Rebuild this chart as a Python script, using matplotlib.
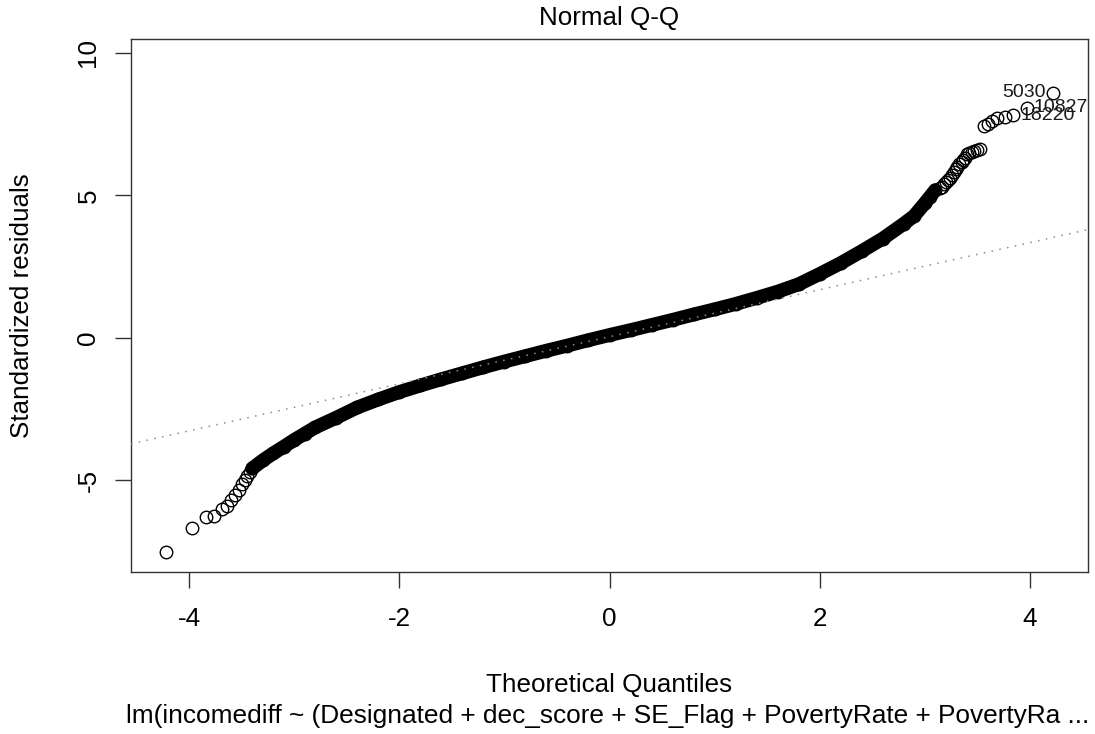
import matplotlib
matplotlib.use("Agg")
import matplotlib.pyplot as plt

plt.rcParams['font.family'] = ['Liberation Sans', 'DejaVu Sans']

# ---- data ----
# dense central band of the Q-Q plot (theoretical quantile, standardized residual)
band_theoretical = [-3.40, -3.30, -3.20, -3.10, -3.00, -2.90, -2.80, -2.60, -2.40, -2.20,
                    -2.00, -1.80, -1.60, -1.40, -1.20, -1.00, -0.80, -0.60, -0.40, -0.20,
                    0.00, 0.20, 0.40, 0.60, 0.80, 1.00, 1.20, 1.40, 1.60, 1.80,
                    2.00, 2.20, 2.40, 2.60, 2.80, 2.90, 3.00, 3.05, 3.10]
band_residual = [-4.58, -4.30, -4.05, -3.82, -3.58, -3.36, -3.14, -2.80, -2.44, -2.16,
                 -1.90, -1.67, -1.45, -1.24, -1.03, -0.83, -0.64, -0.45, -0.27, -0.08,
                 0.10, 0.27, 0.45, 0.63, 0.82, 1.00, 1.19, 1.40, 1.62, 1.88,
                 2.24, 2.62, 3.04, 3.48, 4.00, 4.28, 4.72, 4.95, 5.18]

# individually visible points in the lower tail
low_theoretical = [-4.22, -3.97, -3.84, -3.76, -3.69, -3.64, -3.60, -3.56, -3.53,
                   -3.50, -3.47, -3.45, -3.42]
low_residual = [-7.52, -6.68, -6.28, -6.24, -6.00, -5.88, -5.70, -5.52, -5.32,
                -5.14, -4.98, -4.84, -4.72]

# individually visible points in the upper tail
high_theoretical = [3.14, 3.16, 3.18, 3.20, 3.22, 3.24, 3.26, 3.28, 3.30, 3.31, 3.33,
                    3.35, 3.36, 3.38, 3.40, 3.42, 3.45, 3.47, 3.50, 3.53,
                    3.56, 3.60, 3.64, 3.69, 3.76, 3.84, 3.97, 4.22]
high_residual = [5.25, 5.30, 5.38, 5.46, 5.54, 5.62, 5.72, 5.82, 5.92, 6.00, 6.10,
                 6.18, 6.24, 6.32, 6.44, 6.48, 6.52, 6.56, 6.60, 6.64,
                 7.42, 7.50, 7.60, 7.70, 7.76, 7.80, 8.07, 8.59]

# labelled observations
label_ids = ["5030", "10827", "18220"]
label_theoretical = [4.22, 3.97, 3.84]
label_residual = [8.59, 8.07, 7.80]
label_side = ["left", "right", "right"]

# reference line (qqline) through the quartiles
qqline_slope = 0.825
qqline_intercept = 0.04

x_ticks = [-4, -2, 0, 2, 4]
y_ticks = [-5, 0, 5, 10]

title = "Normal Q-Q"
x_label = "Theoretical Quantiles"
y_label = "Standardized residuals"
subtitle = "lm(incomediff ~ (Designated + dec_score + SE_Flag + PovertyRate + PovertyRa ..."

# ---- figure ----
W, H = 1095, 734
fig = plt.figure(figsize=(W / 100, H / 100), dpi=100)
ax_left, ax_right, ax_top, ax_bottom = 131, 1088, 39, 572
ax = fig.add_axes([ax_left / W, 1 - ax_bottom / H,
                   (ax_right - ax_left) / W, (ax_bottom - ax_top) / H])

FS = 18.7
ms = 9.0
mew = 1.0

# dense band: overlapping circles form a solid stroke
ax.plot(band_theoretical, band_residual, color='black', lw=10.0,
        solid_capstyle='round', solid_joinstyle='round', zorder=2)
ax.plot(band_theoretical, band_residual, linestyle='none', marker='o', ms=ms,
        mfc='none', mec='black', mew=mew, zorder=3)
ax.plot(low_theoretical, low_residual, linestyle='none', marker='o', ms=ms,
        mfc='none', mec='black', mew=mew, zorder=3)
ax.plot(high_theoretical, high_residual, linestyle='none', marker='o', ms=ms,
        mfc='none', mec='black', mew=mew, zorder=3)

# dotted reference line
ax.axline((0, qqline_intercept), slope=qqline_slope, color='#8c8c8c', lw=1.1,
          linestyle=(0, (1, 4.2)), zorder=4)

for lab, xv, yv, side in zip(label_ids, label_theoretical, label_residual, label_side):
    off = -5 if side == "left" else 5
    ax.annotate(lab, (xv, yv), xytext=(off, 0), textcoords='offset points',
                ha='right' if side == "left" else 'left', va='center',
                fontsize=14, color='#1a1a1a', zorder=5)

ax.set_xlim(-4.553, 4.553)
ax.set_ylim(-8.21, 10.48)
ax.set_xticks(x_ticks)
ax.set_yticks(y_ticks)
ax.set_xticklabels([str(t) for t in x_ticks], fontsize=FS)
ax.set_yticklabels([str(t) for t in y_ticks], fontsize=FS, rotation=90, va='center')
ax.tick_params(axis='both', direction='out', length=11.5, width=1.0, color='#333333')
ax.tick_params(axis='x', pad=13.5)
ax.tick_params(axis='y', pad=10.5)
for s in ax.spines.values():
    s.set_linewidth(1.0)
    s.set_color('#333333')

fig.text(609.5 / W, 1 - 18 / H, title, ha='center', va='center', fontsize=FS)
fig.text(609.5 / W, 1 - 685 / H, x_label, ha='center', va='center', fontsize=FS)
fig.text(607.5 / W, 1 - 716 / H, subtitle, ha='center', va='center', fontsize=18.9)
fig.text(22 / W, 1 - 306 / H, y_label, ha='center', va='center', rotation=90, fontsize=FS)

fig.savefig("out.png", dpi=100)
